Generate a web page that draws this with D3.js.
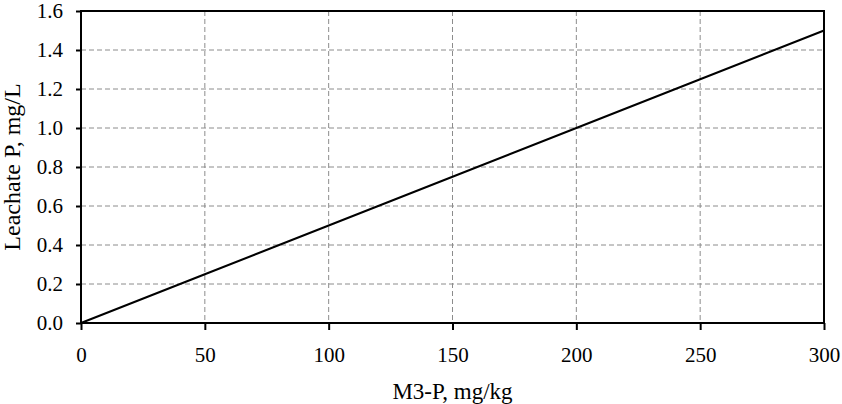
<!DOCTYPE html>
<html>
<head>
<meta charset="utf-8">
<script src="https://cdn.jsdelivr.net/npm/d3@7"></script>
<style>
  body { margin: 0; background: #fff; }
  text { font-family: "Liberation Serif", "Times New Roman", serif; }
</style>
</head>
<body>
<div id="chart"></div>
<script>
var m3p = [0, 50, 100, 150, 200, 250, 300];
var leachateP = [0, 0.25, 0.5, 0.75, 1.0, 1.25, 1.5];
var xTicks = [0, 50, 100, 150, 200, 250, 300];
var yTicks = [0, 0.2, 0.4, 0.6, 0.8, 1.0, 1.2, 1.4, 1.6];

var svgWidth = 842, svgHeight = 404;
var margin = { top: 11, left: 81, right: 18, bottom: 81 };
var width = svgWidth - margin.left - margin.right;
var height = svgHeight - margin.top - margin.bottom;

var svg = d3.select("#chart").append("svg")
    .attr("width", svgWidth)
    .attr("height", svgHeight);

var g = svg.append("g")
    .attr("transform", `translate(${margin.left}, ${margin.top})`);

var x = d3.scaleLinear().domain([0, 300]).range([0, width]);
var y = d3.scaleLinear().domain([0, 1.6]).range([height, 0]);

// grid
g.append("g").selectAll("line")
    .data(yTicks.slice(1, -1))
    .enter().append("line")
    .attr("x1", 0).attr("x2", width)
    .attr("y1", d => y(d)).attr("y2", d => y(d))
    .attr("stroke", "#8c8c8c").attr("stroke-dasharray", "5,3");

g.append("g").selectAll("line")
    .data(xTicks.slice(1, -1))
    .enter().append("line")
    .attr("y1", 0).attr("y2", height)
    .attr("x1", d => x(d)).attr("x2", d => x(d))
    .attr("stroke", "#8c8c8c").attr("stroke-dasharray", "5,3");

// axes
var xAxis = g.append("g")
    .attr("transform", `translate(0, ${height})`)
    .call(d3.axisBottom(x).tickValues(xTicks).tickSize(7).tickPadding(17).tickFormat(d3.format("d")));
var yAxis = g.append("g")
    .call(d3.axisLeft(y).tickValues(yTicks).tickSize(5).tickPadding(13).tickFormat(d3.format(".1f")));

[xAxis, yAxis].forEach(a => {
    a.select(".domain").remove();
    a.selectAll("line").attr("stroke", "#000").attr("stroke-width", 2);
    a.selectAll("text").attr("font-size", "21px").attr("fill", "#000")
        .style("font-family", "'Liberation Serif', serif");
});

// frame
g.append("rect")
    .attr("x", 0).attr("y", 0)
    .attr("width", width).attr("height", height)
    .attr("fill", "none").attr("stroke", "#000").attr("stroke-width", 2);

// line
var line = d3.line().x((d, i) => x(m3p[i])).y(d => y(d));
g.append("path")
    .datum(leachateP)
    .attr("d", line)
    .attr("fill", "none")
    .attr("stroke", "#000")
    .attr("stroke-width", 2);

// titles
svg.append("text")
    .attr("x", margin.left + width / 2)
    .attr("y", 399)
    .attr("text-anchor", "middle")
    .attr("font-size", "23px")
    .text("M3-P, mg/kg");

svg.append("text")
    .attr("transform", `translate(20, ${margin.top + height / 2}) rotate(-90)`)
    .attr("text-anchor", "middle")
    .attr("font-size", "24px")
    .text("Leachate P, mg/L");
</script>
</body>
</html>
